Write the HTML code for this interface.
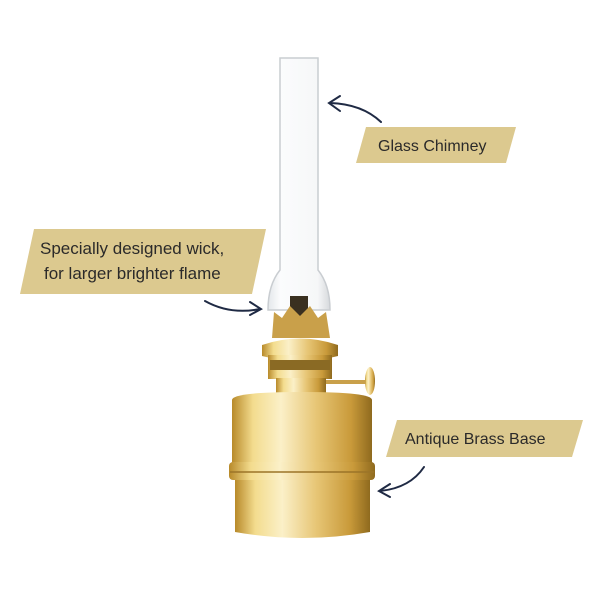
<!DOCTYPE html>
<html><head><meta charset="utf-8"><style>
html,body{margin:0;padding:0;background:#fff;width:600px;height:600px;overflow:hidden}
svg{display:block}
text{font-family:"Liberation Sans",sans-serif;fill:#2b2a2a}
</style></head><body>
<svg width="600" height="600" viewBox="0 0 600 600">
<defs>
<linearGradient id="brass" x1="0" x2="1">
<stop offset="0" stop-color="#b88a2a"/><stop offset="0.15" stop-color="#f3dc8e"/>
<stop offset="0.35" stop-color="#fbf0c8"/><stop offset="0.6" stop-color="#e7c676"/>
<stop offset="0.85" stop-color="#c99a3a"/><stop offset="1" stop-color="#8f6a1e"/>
</linearGradient>
<linearGradient id="glass" x1="0" x2="1">
<stop offset="0" stop-color="#e4e7ea"/><stop offset="0.2" stop-color="#fbfcfd"/>
<stop offset="0.8" stop-color="#f6f7f8"/><stop offset="1" stop-color="#d6d9dc"/>
</linearGradient>
</defs>
<!-- chimney -->
<path d="M280 58 L318 58 L318 270 Q330 285 330 310 L268 310 Q268 285 280 270 Z" fill="url(#glass)" stroke="#c9cdd1" stroke-width="1.5"/>
<rect x="290" y="296" width="18" height="20" fill="#3a3020"/>
<!-- burner gallery -->
<path d="M272 338 L274 312 L282 318 L290 306 L300 316 L310 306 L318 318 L326 312 L330 338 Z" fill="#c9a04a"/>
<path d="M262 345 Q300 332 338 345 L338 356 Q300 366 262 356 Z" fill="url(#brass)"/>
<rect x="268" y="355" width="64" height="24" fill="url(#brass)"/>
<rect x="270" y="360" width="60" height="10" fill="#8a6a24"/>
<rect x="276" y="378" width="50" height="18" fill="url(#brass)"/>
<!-- knob -->
<rect x="326" y="380" width="40" height="4" fill="#c9a04a"/>
<ellipse cx="370" cy="381" rx="5" ry="14" fill="url(#brass)"/>
<!-- base -->
<path d="M232 400 Q232 392 302 392 Q372 392 372 400 L372 465 L232 465 Z" fill="url(#brass)"/>
<rect x="229" y="462" width="146" height="18" rx="4" fill="url(#brass)"/>
<line x1="230" y1="472" x2="374" y2="472" stroke="#9b7428" stroke-width="1.5"/>
<path d="M235 480 L370 480 L370 532 Q302 544 235 532 Z" fill="url(#brass)"/>
<!-- labels -->
<polygon points="366,127 516,127 506,163 356,163" fill="#dcc98f"/>
<text x="378" y="151" font-size="16">Glass Chimney</text>
<polygon points="34,229 266,229 252,294 20,294" fill="#dcc98f"/>
<text x="40" y="254" font-size="17">Specially designed wick,</text>
<text x="44" y="279" font-size="17">for larger brighter flame</text>
<polygon points="397,420 583,420 572,457 386,457" fill="#dcc98f"/>
<text x="405" y="444" font-size="16">Antique Brass Base</text>
<!-- arrows -->
<g fill="none" stroke="#1f2a44" stroke-width="2" stroke-linecap="round">
<path d="M381 122 Q362 104 330 103"/><path d="M340 96 L329 103 L340 111"/>
<path d="M205 301 Q230 315 260 309"/><path d="M250 302 L261 309 L250 315"/>
<path d="M424 467 Q410 488 380 491"/><path d="M390 484 L379 491 L390 497"/>
</g>
</svg>
</body></html>
